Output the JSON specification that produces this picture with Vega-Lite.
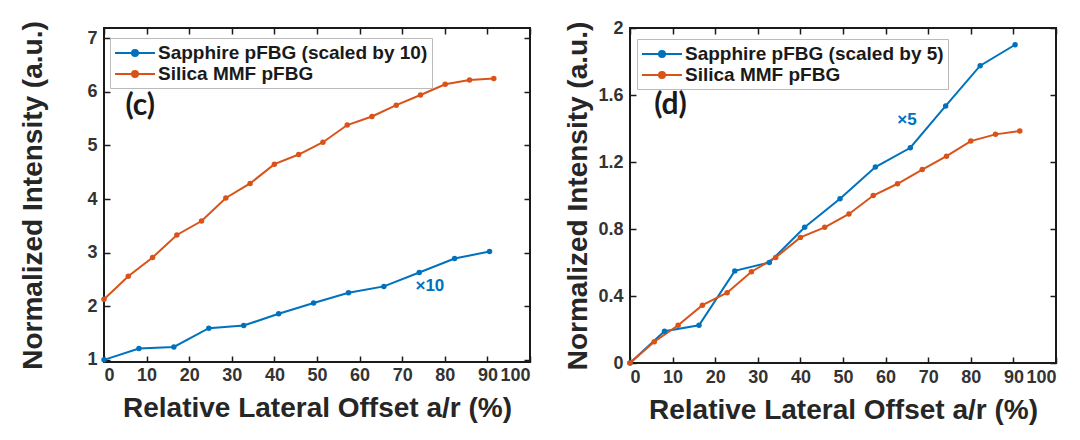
{
  "$schema": "https://vega.github.io/schema/vega-lite/v6.json",
  "background": "white",
  "padding": {"left": 18, "top": 18, "right": 5, "bottom": 5},
  "spacing": 31,
  "config": {
    "view": {"stroke": "#1a1a1a", "strokeWidth": 2},
    "font": "Liberation Sans",
    "axis": {
      "labelFont": "Liberation Sans",
      "labelFontSize": 18,
      "labelFontWeight": "bold",
      "labelColor": "#333333",
      "titleFont": "Liberation Sans",
      "titleFontSize": 28,
      "titleFontWeight": "bold",
      "titleColor": "#262626",
      "tickColor": "#1a1a1a",
      "tickSize": -6,
      "tickWidth": 1.5,
      "domain": false,
      "grid": false
    },
    "legend": {
      "orient": "none",
      "title": null,
      "labelFont": "Liberation Sans",
      "labelFontSize": 19,
      "labelFontWeight": "bold",
      "labelColor": "#1a1a1a",
      "labelLimit": 400,
      "symbolType": "M-1,0H3M0.7,0A0.3,0.3,0,1,0,1.3,0A0.3,0.3,0,1,0,0.7,0Z",
      "symbolSize": 400,
      "symbolStrokeWidth": 2,
      "labelOffset": 22,
      "padding": 4,
      "rowPadding": 0,
      "fillColor": "white",
      "strokeColor": "#bbbbbb"
    }
  },
  "datasets": {
    "lines": [
      {"panel": "c", "series": "Sapphire pFBG (scaled by 10)", "x": 0, "y": 1.0},
      {"panel": "c", "series": "Sapphire pFBG (scaled by 10)", "x": 8.2, "y": 1.21},
      {"panel": "c", "series": "Sapphire pFBG (scaled by 10)", "x": 16.4, "y": 1.24},
      {"panel": "c", "series": "Sapphire pFBG (scaled by 10)", "x": 24.6, "y": 1.59},
      {"panel": "c", "series": "Sapphire pFBG (scaled by 10)", "x": 32.8, "y": 1.64},
      {"panel": "c", "series": "Sapphire pFBG (scaled by 10)", "x": 41.0, "y": 1.86},
      {"panel": "c", "series": "Sapphire pFBG (scaled by 10)", "x": 49.2, "y": 2.06},
      {"panel": "c", "series": "Sapphire pFBG (scaled by 10)", "x": 57.4, "y": 2.25},
      {"panel": "c", "series": "Sapphire pFBG (scaled by 10)", "x": 65.7, "y": 2.37},
      {"panel": "c", "series": "Sapphire pFBG (scaled by 10)", "x": 74.0, "y": 2.63},
      {"panel": "c", "series": "Sapphire pFBG (scaled by 10)", "x": 82.3, "y": 2.89},
      {"panel": "c", "series": "Sapphire pFBG (scaled by 10)", "x": 90.5, "y": 3.02},
      {"panel": "c", "series": "Silica MMF pFBG", "x": 0, "y": 2.13},
      {"panel": "c", "series": "Silica MMF pFBG", "x": 5.7, "y": 2.56},
      {"panel": "c", "series": "Silica MMF pFBG", "x": 11.4, "y": 2.91},
      {"panel": "c", "series": "Silica MMF pFBG", "x": 17.1, "y": 3.33},
      {"panel": "c", "series": "Silica MMF pFBG", "x": 22.9, "y": 3.59},
      {"panel": "c", "series": "Silica MMF pFBG", "x": 28.6, "y": 4.02},
      {"panel": "c", "series": "Silica MMF pFBG", "x": 34.3, "y": 4.29},
      {"panel": "c", "series": "Silica MMF pFBG", "x": 40.0, "y": 4.65},
      {"panel": "c", "series": "Silica MMF pFBG", "x": 45.7, "y": 4.83},
      {"panel": "c", "series": "Silica MMF pFBG", "x": 51.4, "y": 5.06},
      {"panel": "c", "series": "Silica MMF pFBG", "x": 57.1, "y": 5.38},
      {"panel": "c", "series": "Silica MMF pFBG", "x": 62.9, "y": 5.54},
      {"panel": "c", "series": "Silica MMF pFBG", "x": 68.6, "y": 5.75},
      {"panel": "c", "series": "Silica MMF pFBG", "x": 74.3, "y": 5.94},
      {"panel": "c", "series": "Silica MMF pFBG", "x": 80.1, "y": 6.14},
      {"panel": "c", "series": "Silica MMF pFBG", "x": 85.8, "y": 6.22},
      {"panel": "c", "series": "Silica MMF pFBG", "x": 91.5, "y": 6.25},
      {"panel": "d", "series": "Sapphire pFBG (scaled by 5)", "x": 0, "y": 0},
      {"panel": "d", "series": "Sapphire pFBG (scaled by 5)", "x": 8.1, "y": 0.19},
      {"panel": "d", "series": "Sapphire pFBG (scaled by 5)", "x": 16.2, "y": 0.225},
      {"panel": "d", "series": "Sapphire pFBG (scaled by 5)", "x": 24.6, "y": 0.55},
      {"panel": "d", "series": "Sapphire pFBG (scaled by 5)", "x": 32.7, "y": 0.6},
      {"panel": "d", "series": "Sapphire pFBG (scaled by 5)", "x": 41.0, "y": 0.81},
      {"panel": "d", "series": "Sapphire pFBG (scaled by 5)", "x": 49.3, "y": 0.98},
      {"panel": "d", "series": "Sapphire pFBG (scaled by 5)", "x": 57.6, "y": 1.17},
      {"panel": "d", "series": "Sapphire pFBG (scaled by 5)", "x": 65.8, "y": 1.285},
      {"panel": "d", "series": "Sapphire pFBG (scaled by 5)", "x": 74.1, "y": 1.535},
      {"panel": "d", "series": "Sapphire pFBG (scaled by 5)", "x": 82.2, "y": 1.775},
      {"panel": "d", "series": "Sapphire pFBG (scaled by 5)", "x": 90.4, "y": 1.9},
      {"panel": "d", "series": "Silica MMF pFBG", "x": 0, "y": 0},
      {"panel": "d", "series": "Silica MMF pFBG", "x": 5.7, "y": 0.127},
      {"panel": "d", "series": "Silica MMF pFBG", "x": 11.3, "y": 0.225},
      {"panel": "d", "series": "Silica MMF pFBG", "x": 17.0, "y": 0.345},
      {"panel": "d", "series": "Silica MMF pFBG", "x": 22.8, "y": 0.42},
      {"panel": "d", "series": "Silica MMF pFBG", "x": 28.5, "y": 0.545},
      {"panel": "d", "series": "Silica MMF pFBG", "x": 34.2, "y": 0.63},
      {"panel": "d", "series": "Silica MMF pFBG", "x": 40.0, "y": 0.75},
      {"panel": "d", "series": "Silica MMF pFBG", "x": 45.7, "y": 0.81},
      {"panel": "d", "series": "Silica MMF pFBG", "x": 51.4, "y": 0.89},
      {"panel": "d", "series": "Silica MMF pFBG", "x": 57.1, "y": 1.0},
      {"panel": "d", "series": "Silica MMF pFBG", "x": 62.8, "y": 1.07},
      {"panel": "d", "series": "Silica MMF pFBG", "x": 68.6, "y": 1.155},
      {"panel": "d", "series": "Silica MMF pFBG", "x": 74.3, "y": 1.235},
      {"panel": "d", "series": "Silica MMF pFBG", "x": 80.0, "y": 1.325},
      {"panel": "d", "series": "Silica MMF pFBG", "x": 85.8, "y": 1.365},
      {"panel": "d", "series": "Silica MMF pFBG", "x": 91.5, "y": 1.385}
    ],
    "notes": [
      {"panel": "c", "kind": "panel", "label": "(c)", "x": 8.5, "y": 5.73},
      {"panel": "c", "kind": "scale", "label": "×10", "x": 76.5, "y": 2.37},
      {"panel": "d", "kind": "panel", "label": "(d)", "x": 9.5, "y": 1.54},
      {"panel": "d", "kind": "scale", "label": "×5", "x": 65, "y": 1.45}
    ]
  },
  "hconcat": [
    {
      "width": 426,
      "height": 334,
      "layer": [
        {
          "data": {"name": "lines"},
          "transform": [{"filter": "datum.panel === 'c'"}],
          "mark": {"type": "line", "strokeWidth": 2, "point": {"filled": true, "size": 30}},
          "encoding": {
            "x": {"field": "x", "type": "quantitative", "scale": {"domain": [0, 100], "nice": false},
                  "axis": {"orient": "bottom", "values": [0, 10, 20, 30, 40, 50, 60, 70, 80, 90, 100], "title": "Relative Lateral Offset a/r (%)", "labelPadding": 10, "titlePadding": 10}},
            "y": {"field": "y", "type": "quantitative", "scale": {"domain": [0.96, 7.19], "nice": false, "zero": false},
                  "axis": {"orient": "left", "values": [1, 2, 3, 4, 5, 6, 7], "title": "Normalized Intensity (a.u.)", "labelPadding": 13, "titlePadding": 39}},
            "color": {"field": "series", "type": "nominal",
                      "scale": {"domain": ["Sapphire pFBG (scaled by 10)", "Silica MMF pFBG"], "range": ["#0072BD", "#D95319"]},
                      "legend": {"legendX": 6, "legendY": 10,
                                 "encode": {"symbols": {"update": {"fill": {"signal": "datum.value === 'Silica MMF pFBG' ? '#D95319' : '#0072BD'"}}}}}}
          }
        },
        {
          "data": {"name": "notes"},
          "transform": [{"filter": "datum.panel === 'c' && datum.kind === 'panel'"}],
          "mark": {"type": "text", "font": "Lato", "fontSize": 30, "fontWeight": "bold", "color": "#1a1a1a"},
          "encoding": {
            "x": {"field": "x", "type": "quantitative", "axis": {"orient": "top", "labels": false, "title": null, "values": [0, 10, 20, 30, 40, 50, 60, 70, 80, 90, 100]}},
            "y": {"field": "y", "type": "quantitative", "axis": {"orient": "right", "labels": false, "title": null, "values": [1, 2, 3, 4, 5, 6, 7]}},
            "text": {"field": "label"}
          }
        },
        {
          "data": {"name": "notes"},
          "transform": [{"filter": "datum.panel === 'c' && datum.kind === 'scale'"}],
          "mark": {"type": "text", "font": "Liberation Sans", "fontSize": 17, "fontWeight": "bold", "color": "#0072BD"},
          "encoding": {
            "x": {"field": "x", "type": "quantitative", "axis": null},
            "y": {"field": "y", "type": "quantitative", "axis": null},
            "text": {"field": "label"}
          }
        }
      ]
    },
    {
      "width": 426,
      "height": 335,
      "layer": [
        {
          "data": {"name": "lines"},
          "transform": [{"filter": "datum.panel === 'd'"}],
          "mark": {"type": "line", "strokeWidth": 2, "point": {"filled": true, "size": 30}},
          "encoding": {
            "x": {"field": "x", "type": "quantitative", "scale": {"domain": [0, 100], "nice": false},
                  "axis": {"orient": "bottom", "values": [0, 10, 20, 30, 40, 50, 60, 70, 80, 90, 100], "title": "Relative Lateral Offset a/r (%)", "labelPadding": 11, "titlePadding": 10}},
            "y": {"field": "y", "type": "quantitative", "scale": {"domain": [0, 2], "nice": false},
                  "axis": {"orient": "left", "values": [0, 0.4, 0.8, 1.2, 1.6, 2], "format": "~g", "title": "Normalized Intensity (a.u.)", "labelPadding": 13, "titlePadding": 5}},
            "color": {"field": "series", "type": "nominal",
                      "scale": {"domain": ["Sapphire pFBG (scaled by 5)", "Silica MMF pFBG"], "range": ["#0072BD", "#D95319"]},
                      "legend": {"legendX": 7, "legendY": 11,
                                 "encode": {"symbols": {"update": {"fill": {"signal": "datum.value === 'Silica MMF pFBG' ? '#D95319' : '#0072BD'"}}}}}}
          }
        },
        {
          "data": {"name": "notes"},
          "transform": [{"filter": "datum.panel === 'd' && datum.kind === 'panel'"}],
          "mark": {"type": "text", "font": "Lato", "fontSize": 30, "fontWeight": "bold", "color": "#1a1a1a"},
          "encoding": {
            "x": {"field": "x", "type": "quantitative", "axis": {"orient": "top", "labels": false, "title": null, "values": [0, 10, 20, 30, 40, 50, 60, 70, 80, 90, 100]}},
            "y": {"field": "y", "type": "quantitative", "axis": {"orient": "right", "labels": false, "title": null, "values": [0, 0.4, 0.8, 1.2, 1.6, 2]}},
            "text": {"field": "label"}
          }
        },
        {
          "data": {"name": "notes"},
          "transform": [{"filter": "datum.panel === 'd' && datum.kind === 'scale'"}],
          "mark": {"type": "text", "font": "Liberation Sans", "fontSize": 17, "fontWeight": "bold", "color": "#0072BD"},
          "encoding": {
            "x": {"field": "x", "type": "quantitative", "axis": null},
            "y": {"field": "y", "type": "quantitative", "axis": null},
            "text": {"field": "label"}
          }
        }
      ]
    }
  ],
  "resolve": {"scale": {"x": "independent", "y": "independent", "color": "independent"}, "legend": {"color": "independent"}}
}
